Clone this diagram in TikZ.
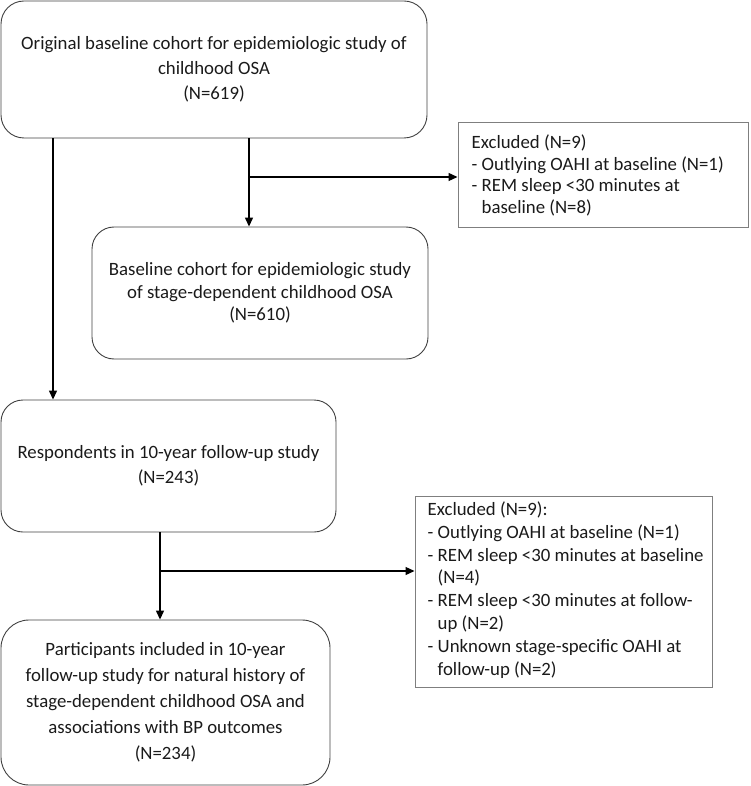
\documentclass[tikz,border=0pt]{standalone}
\usepackage{fontspec}
\setmainfont{Carlito}
\usetikzlibrary{arrows.meta}
\definecolor{boxline}{HTML}{404040}
\definecolor{exline}{HTML}{7F7F7F}
\definecolor{txt}{HTML}{1A1A1A}
\begin{document}
\begin{tikzpicture}[x=1pt,y=-1pt,
  rbox/.style={draw=boxline, line width=0.9pt, align=center, text=txt, inner sep=0pt},
  exbox/.style={draw=exline, line width=1pt, inner sep=0pt},
  extext/.style={align=left, text=txt, inner sep=0pt, anchor=west},
  arr/.style={line width=1.3pt, -{Triangle[length=9pt,width=8pt]}}]
\useasboundingbox (0,0) rectangle (750,786);
\node[rbox, rounded corners=23pt, minimum width=426pt, minimum height=137pt,
  font=\fontsize{18.8}{25}\selectfont] (b1) at (214,69.5)
  {Original baseline cohort for epidemiologic study of\\childhood OSA\\(N=619)};
\node[rbox, rounded corners=22pt, minimum width=336pt, minimum height=132pt,
  font=\fontsize{18.8}{22.5}\selectfont] (b2) at (260,293)
  {Baseline cohort for epidemiologic study\\of stage-dependent childhood OSA\\(N=610)};
\node[rbox, rounded corners=22pt, minimum width=335pt, minimum height=132pt,
  font=\fontsize{18.8}{25}\selectfont] (b3) at (168.5,466)
  {Respondents in 10-year follow-up study\\(N=243)};
\node[rbox, rounded corners=28pt, minimum width=329pt, minimum height=165pt,
  font=\fontsize{18.8}{26}\selectfont] (b4) at (165.5,702.5)
  {Participants included in 10-year\\follow-up study for natural history of\\stage-dependent childhood OSA and\\associations with BP outcomes\\(N=234)};
\node[exbox, minimum width=290pt, minimum height=105pt] (e1) at (603,175.5) {};
\node[extext, font=\fontsize{18.8}{21.7}\selectfont] (e1t) at ([xshift=14pt]e1.west)
  {Excluded (N=9)\\- Outlying OAHI at baseline (N=1)\\- REM sleep <30 minutes at\\\phantom{- }baseline (N=8)};
\node[exbox, minimum width=297pt, minimum height=191pt] (e2) at (563.5,591.5) {};
\node[extext, font=\fontsize{18.8}{22.8}\selectfont] (e2t) at ([xshift=13pt,yshift=1.5pt]e2.west)
  {Excluded (N=9):\\- Outlying OAHI at baseline (N=1)\\- REM sleep <30 minutes at baseline\\\phantom{- }(N=4)\\- REM sleep <30 minutes at follow-\\\phantom{- }up (N=2)\\- Unknown stage-specific OAHI at\\\phantom{- }follow-up (N=2)};
\coordinate (cL) at (53,0);
\coordinate (cM) at (249,0);
\coordinate (j1) at (249,177);
\coordinate (cB) at (160,0);
\coordinate (j2) at (160,571);
\draw[arr] (b1.south -| cL) -- (b3.north -| cL);
\draw[arr] (b1.south -| cM) -- (b2.north -| cM);
\draw[arr] (j1) -- (j1 -| e1.west);
\draw[arr] (b3.south -| cB) -- (b4.north -| cB);
\draw[arr] (j2) -- (j2 -| e2.west);
\end{tikzpicture}
\end{document}
